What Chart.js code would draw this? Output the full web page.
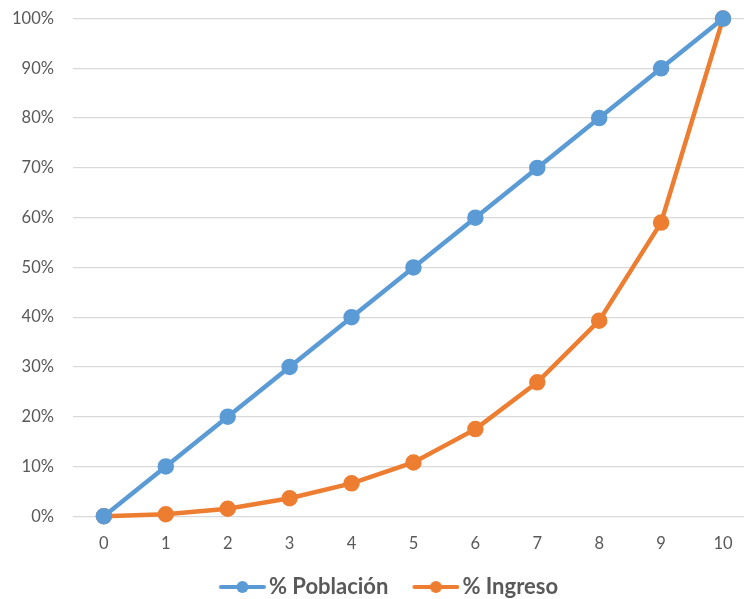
<!DOCTYPE html>
<html><head><meta charset="utf-8">
<script src="https://cdn.jsdelivr.net/npm/chart.js@4/dist/chart.umd.min.js"></script>
<style>html,body{margin:0;padding:0;background:#fff;overflow:hidden}#wrap{width:744px;height:599px}</style>
</head><body><div id="wrap"><canvas id="c" width="744" height="599"></canvas></div>
<script>
const categories = [0,1,2,3,4,5,6,7,8,9,10];
const poblacion = [0,10,20,30,40,50,60,70,80,90,100];
const ingreso = [0,0.4,1.5,3.6,6.6,10.8,17.5,26.9,39.3,59.0,100];
const yTicks = [0,10,20,30,40,50,60,70,80,90,100];
const seriesNames = ['% Población','% Ingreso'];
const colors = ['#5B9BD5','#ED7D31'];

const PSW = 61, IMGW = PSW + 16;
function legendImg(color){
  const cv=document.createElement('canvas');cv.width=IMGW;cv.height=14;
  const g=cv.getContext('2d');
  const r=IMGW-2, l=r-43, m=(l+r)/2;
  g.strokeStyle=color;g.lineWidth=4;g.lineCap='round';
  g.beginPath();g.moveTo(l,7);g.lineTo(r,7);g.stroke();
  g.fillStyle=color;g.beginPath();g.arc(m,7,6,0,Math.PI*2);g.fill();
  return cv;
}
const imgs = colors.map(legendImg);
const FONT = 'Lato, "Open Sans", sans-serif';
const CLEAR = 'rgba(0,0,0,0)';

new Chart(document.getElementById('c'),{
  type:'line',
  data:{datasets:[
    {label:seriesNames[0],data:categories.map((c,i)=>({x:c,y:poblacion[i]})),borderColor:colors[0],backgroundColor:colors[0],borderWidth:4.5,pointRadius:6,pointHoverRadius:6,tension:0,clip:false},
    {label:seriesNames[1],data:categories.map((c,i)=>({x:c,y:ingreso[i]})),borderColor:colors[1],backgroundColor:colors[1],borderWidth:4.5,pointRadius:6,pointHoverRadius:6,tension:0,clip:false}
  ]},
  options:{
    responsive:false,animation:false,
    layout:{autoPadding:false,padding:{top:18.6,right:0,left:11,bottom:-9}},
    scales:{
      x:{type:'linear',min:-0.5,max:10.339,
        afterBuildTicks:s=>{s.ticks=categories.map(v=>({value:v}));},
        afterFit:s=>{s.height+=19;},
        ticks:{color:'#595959',font:{family:FONT,size:16.5},padding:1,autoSkip:false,maxRotation:0,callback:v=>String(v)},
        grid:{display:true,color:CLEAR,tickColor:CLEAR,drawTicks:true,tickLength:17},border:{display:false}},
      y:{min:0,max:100,
        afterBuildTicks:s=>{s.ticks=yTicks.map(v=>({value:v}));},
        ticks:{color:'#595959',font:{family:FONT,size:16.5},padding:1,callback:v=>v+'%'},
        grid:{color:'#D9D9D9',lineWidth:1.3,drawTicks:true,tickLength:18,tickColor:CLEAR},border:{display:false}}
    },
    plugins:{
      tooltip:{enabled:false},
      legend:{position:'bottom',
        labels:{usePointStyle:true,pointStyleWidth:PSW,boxHeight:14,padding:2,color:'#595959',font:{family:FONT,size:22,weight:'bold'},
          generateLabels:(chart)=>{
            const items=Chart.defaults.plugins.legend.labels.generateLabels(chart);
            items.forEach((it,i)=>{it.pointStyle=imgs[i];});
            return items;
          }}
      }
    }
  }
});
</script></body></html>
